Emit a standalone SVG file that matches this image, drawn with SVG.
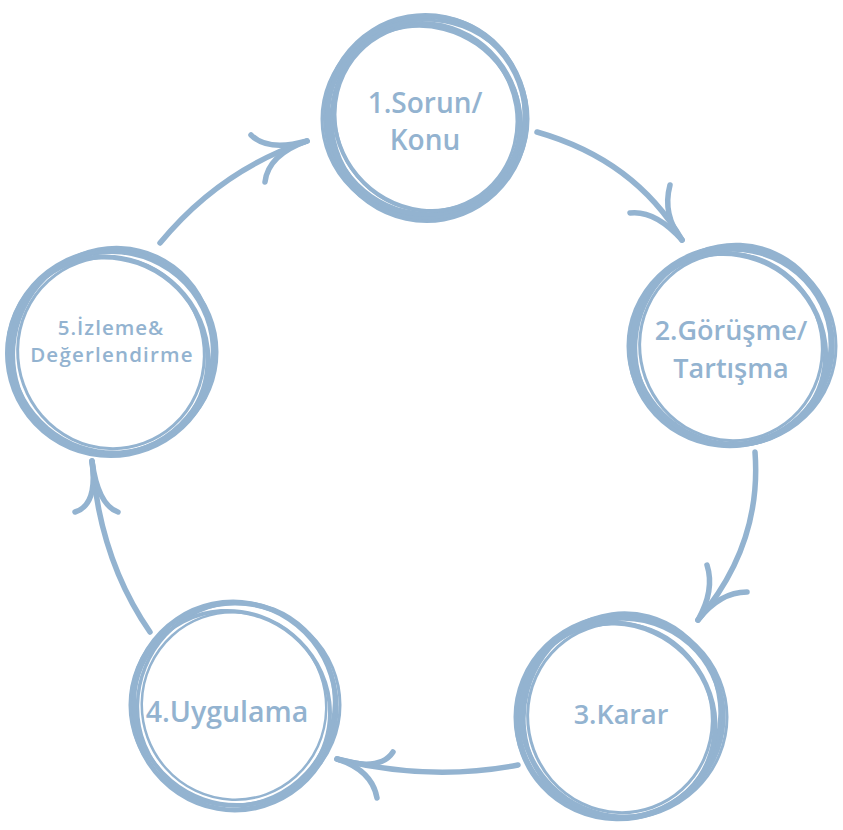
<svg xmlns="http://www.w3.org/2000/svg" width="843" height="830" viewBox="0 0 843 830">
<style>
.c{fill:none;stroke:#93b3d0;stroke-linecap:round}
.a{fill:none;stroke:#93b3d0;stroke-width:5.5;stroke-linecap:round}
.t{font-family:"Open Sans","Liberation Sans",sans-serif;font-weight:600;fill:#93b3d0;text-anchor:middle}
</style>
<rect width="843" height="830" fill="#fff"/>
<g id="node1">
<ellipse class="c" cx="426" cy="118" rx="100" ry="102" stroke-width="6" transform="rotate(-10 426 118)"/>
<ellipse class="c" cx="428" cy="116" rx="96" ry="100" stroke-width="4" transform="rotate(20 428 116)"/>
<ellipse class="c" cx="424" cy="120" rx="98" ry="93" stroke-width="5" transform="rotate(35 424 120)"/>
<ellipse class="c" cx="427" cy="117" rx="91" ry="96" stroke-width="4" transform="rotate(-40 427 117)"/>
<ellipse class="c" cx="425" cy="119" rx="103" ry="99" stroke-width="3"/>
<ellipse class="c" cx="426" cy="118" rx="94" ry="90" stroke-width="3" transform="rotate(60 426 118)"/>
<text class="t" x="425" y="113" font-size="28">1.Sorun/</text>
<text class="t" x="425" y="150" font-size="28">Konu</text>
</g>
<g id="node2">
<ellipse class="c" cx="731" cy="347" rx="101" ry="98" stroke-width="6" transform="rotate(-15 731 347)"/>
<ellipse class="c" cx="733" cy="345" rx="97" ry="101" stroke-width="4" transform="rotate(25 733 345)"/>
<ellipse class="c" cx="729" cy="349" rx="99" ry="93" stroke-width="5" transform="rotate(40 729 349)"/>
<ellipse class="c" cx="732" cy="346" rx="104" ry="100" stroke-width="3"/>
<ellipse class="c" cx="731" cy="347" rx="94" ry="91" stroke-width="3" transform="rotate(70 731 347)"/>
<text class="t" x="731" y="340" font-size="27">2.Görüşme/</text>
<text class="t" x="731" y="378" font-size="27">Tartışma</text>
</g>
<g id="node3">
<ellipse class="c" cx="620" cy="718" rx="103" ry="100" stroke-width="6" transform="rotate(-20 620 718)"/>
<ellipse class="c" cx="622" cy="716" rx="98" ry="103" stroke-width="4" transform="rotate(15 622 716)"/>
<ellipse class="c" cx="618" cy="720" rx="100" ry="94" stroke-width="5" transform="rotate(45 618 720)"/>
<ellipse class="c" cx="621" cy="717" rx="106" ry="102" stroke-width="3"/>
<ellipse class="c" cx="620" cy="718" rx="95" ry="92" stroke-width="3" transform="rotate(70 620 718)"/>
<text class="t" x="621" y="724" font-size="27">3.Karar</text>
</g>
<g id="node4">
<ellipse class="c" cx="234" cy="706" rx="102" ry="104" stroke-width="5" transform="rotate(-12 234 706)"/>
<ellipse class="c" cx="236" cy="704" rx="98" ry="102" stroke-width="3.5" transform="rotate(22 236 704)"/>
<ellipse class="c" cx="232" cy="708" rx="100" ry="95" stroke-width="4" transform="rotate(40 232 708)"/>
<ellipse class="c" cx="235" cy="705" rx="105" ry="101" stroke-width="3"/>
<ellipse class="c" cx="234" cy="706" rx="94" ry="92" stroke-width="2.5" transform="rotate(70 234 706)"/>
<text class="t" x="227" y="722" font-size="28.5">4.Uygulama</text>
</g>
<g id="node5">
<ellipse class="c" cx="111" cy="353" rx="103" ry="102" stroke-width="6" transform="rotate(-10 111 353)"/>
<ellipse class="c" cx="113" cy="351" rx="99" ry="104" stroke-width="4" transform="rotate(25 113 351)"/>
<ellipse class="c" cx="109" cy="355" rx="101" ry="96" stroke-width="5" transform="rotate(40 109 355)"/>
<ellipse class="c" cx="112" cy="352" rx="105" ry="101" stroke-width="3"/>
<ellipse class="c" cx="111" cy="353" rx="96" ry="93" stroke-width="3" transform="rotate(70 111 353)"/>
<text class="t" x="111" y="335" font-size="20.5" letter-spacing="1">5.İzleme&amp;</text>
<text class="t" x="112" y="362" font-size="20.5" letter-spacing="1.2">Değerlendirme</text>
</g>
<g id="connectors">
<path class="a" d="M160,243 Q220,170 307,141"/>
<path class="a" d="M307,141 Q268,152 251,135"/>
<path class="a" d="M307,141 Q268,155 265,182"/>
<path class="a" d="M537,132 Q635,160 682,240"/>
<path class="a" d="M682,240 Q662,215 670,185"/>
<path class="a" d="M682,240 Q655,210 630,213"/>
<path class="a" d="M755,452 Q762,545 698,620"/>
<path class="a" d="M698,620 Q715,590 707,565"/>
<path class="a" d="M698,620 Q720,592 747,592"/>
<path class="a" d="M518,765 Q430,782 337,759"/>
<path class="a" d="M337,759 Q380,772 393,752"/>
<path class="a" d="M337,759 Q372,770 377,798"/>
<path class="a" d="M150,632 Q100,560 92,461"/>
<path class="a" d="M92,461 Q98,505 75,512"/>
<path class="a" d="M92,461 Q98,505 118,512"/>
</g>
</svg>
